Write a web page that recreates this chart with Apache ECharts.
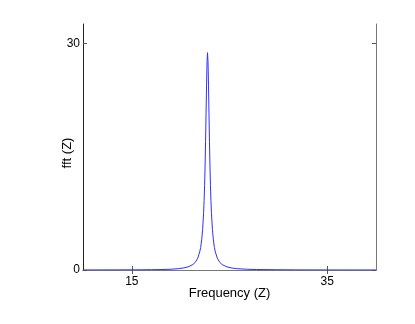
<!DOCTYPE html>
<html>
<head>
<meta charset="utf-8">
<script src="https://cdn.jsdelivr.net/npm/echarts@6/dist/echarts.min.js"></script>
<style>
html, body { margin: 0; padding: 0; background: #fff; }
#chart { width: 415px; height: 324px; }
</style>
</head>
<body>
<div id="chart"></div>
<script>
// frequency samples (Z) and fft magnitude
const freq = [10, 12, 14, 16, 17, 18, 19, 19.75, 20.25, 20.75, 21.25, 21.5, 21.75, 21.95, 22.05, 22.15, 22.25, 22.35, 22.4, 22.45, 22.5, 22.55, 22.6, 22.65, 22.7, 22.75,
  22.8, 22.85, 22.9, 22.95, 23.0, 23.05, 23.1, 23.15, 23.25, 23.35, 23.45, 23.55, 23.75, 24.0, 24.25, 24.75, 25.25, 25.75, 26.75, 27.75, 29.75, 31.75, 35, 40];
const fftZ = [0.01, 0.015, 0.02, 0.03, 0.04, 0.06, 0.1, 0.18, 0.26, 0.41, 0.72, 1.02, 1.57, 2.4, 3.0, 4.0, 5.4, 7.6, 9.2, 11.2, 13.8, 17.0, 20.7, 24.5, 27.6, 28.8,
  27.6, 24.5, 20.7, 17.0, 13.8, 11.2, 9.2, 7.6, 5.4, 4.0, 3.0, 2.4, 1.57, 1.02, 0.72, 0.41, 0.26, 0.18, 0.1, 0.066, 0.034, 0.02, 0.01, 0.006];
const xTicks = [15, 35];
const yTicks = [0, 30];

const chart = echarts.init(document.getElementById('chart'));

const frameLine = { show: true, lineStyle: { color: '#777', width: 1 } };
const tickIn = { show: true, inside: true, length: 4, lineStyle: { color: '#555' } };

chart.setOption({
    animation: false,
    grid: { left: 83, right: 39, top: 24, bottom: 54 },
    textStyle: { fontFamily: 'Liberation Sans, Arial, sans-serif' },
    xAxis: [
        {
            type: 'value', min: 10, max: 40, position: 'bottom',
            name: 'Frequency (Z)', nameLocation: 'middle', nameGap: 17, nameMoveOverlap: false,
            nameTextStyle: { color: '#000', fontSize: 13 },
            axisLine: { show: true, onZero: false, lineStyle: { color: '#777' } },
            axisTick: Object.assign({ customValues: xTicks }, tickIn),
            axisLabel: { customValues: xTicks, color: '#000', fontSize: 12, margin: 6 },
            splitLine: { show: false }
        },
        {
            type: 'value', min: 10, max: 40, position: 'top',
            axisLine: frameLine,
            axisTick: Object.assign({ customValues: xTicks }, tickIn),
            axisLabel: { show: false },
            splitLine: { show: false }
        }
    ],
    yAxis: [
        {
            type: 'value', min: 0, max: 32.6, position: 'left',
            name: 'fft (Z)', nameLocation: 'middle', nameGap: 9, nameMoveOverlap: false,
            nameTextStyle: { color: '#000', fontSize: 13, padding: [0, 12, 0, 0] },
            axisLine: { show: true, onZero: false, lineStyle: { color: '#222' } },
            axisTick: Object.assign({ customValues: yTicks }, tickIn),
            axisLabel: { customValues: yTicks, color: '#000', fontSize: 12, margin: 3 },
            splitLine: { show: false }
        },
        {
            type: 'value', min: 0, max: 32.6, position: 'right',
            axisLine: frameLine,
            axisTick: Object.assign({ customValues: yTicks }, tickIn),
            axisLabel: { show: false },
            splitLine: { show: false }
        }
    ],
    series: [
        {
            type: 'line',
            xAxisIndex: 0,
            yAxisIndex: 0,
            data: freq.map((f, i) => [f, fftZ[i]]),
            showSymbol: false,
            lineStyle: { color: '#3030ff', width: 1 }
        }
    ]
});
</script>
</body>
</html>
